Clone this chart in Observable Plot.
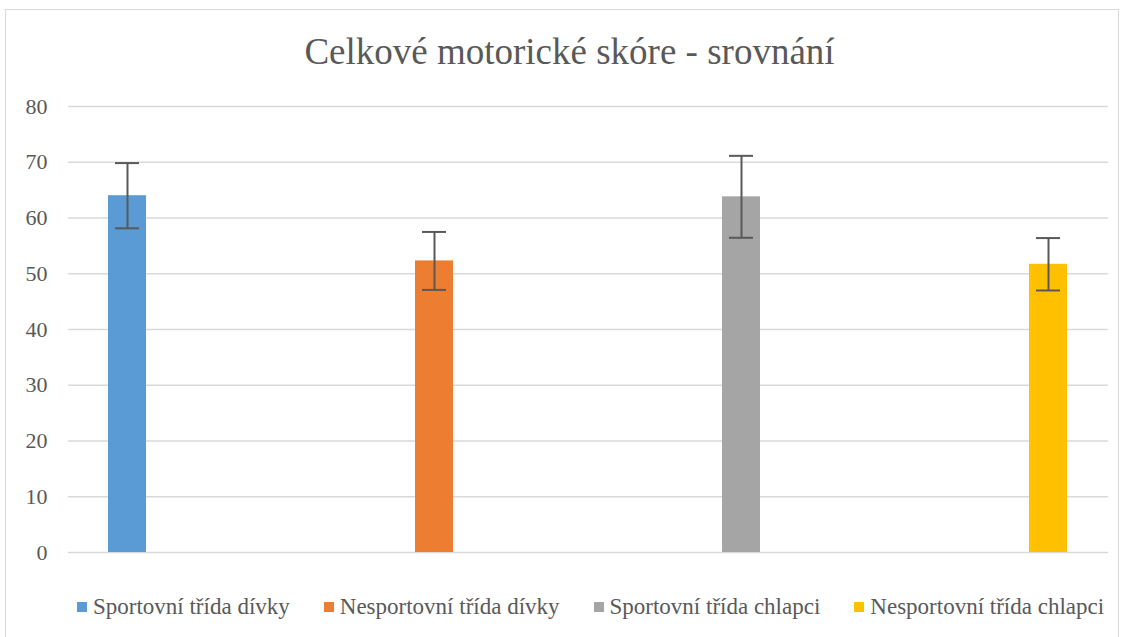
<!DOCTYPE html>
<html>
<head>
<meta charset="utf-8">
<script src="https://cdn.jsdelivr.net/npm/d3@7"></script>
<script src="https://cdn.jsdelivr.net/npm/@observablehq/plot@0.6"></script>
<style>
  html, body { margin: 0; padding: 0; background: #fff; }
  #wrap { position: relative; width: 1127px; height: 637px; overflow: hidden; font-family: "Liberation Serif", "Times New Roman", serif; }
  #border { position: absolute; left: 5px; top: 9px; width: 1114px; height: 640px; border: 1.5px solid #d9d9d9; box-sizing: border-box; }
  #title { position: absolute; left: 6px; width: 1127px; top: 33px; text-align: center; font-size: 37px; color: #595959; line-height: 1; }
  #chart { position: absolute; left: 0; top: 80px; }
  #legend { position: absolute; left: 77px; top: 594px; display: flex; justify-content: flex-start; gap: 34px; font-size: 23px; color: #595959; line-height: 26px; white-space: nowrap; }
  .item { display: flex; align-items: center; }
  .sw { width: 10px; height: 10px; margin-right: 6px; }
</style>
</head>
<body>
<div id="wrap">
  <div id="border"></div>
  <div id="title">Celkové motorické skóre - srovnání</div>
  <div id="chart"></div>
  <div id="legend"></div>
</div>
<script>
const categories = ["Sportovní třída dívky", "Nesportovní třída dívky", "Sportovní třída chlapci", "Nesportovní třída chlapci"];
const means = [64.0, 52.3, 63.8, 51.7];
const errors = [5.85, 5.2, 7.35, 4.7];
const colors = ["#5b9bd5", "#ed7d31", "#a5a5a5", "#ffc000"];
const yTicks = [0, 10, 20, 30, 40, 50, 60, 70, 80];

const data = categories.map((c, i) => ({cat: c, mean: means[i], lo: means[i] - errors[i], hi: means[i] + errors[i], color: colors[i]}));

const plot = Plot.plot({
  width: 1127,
  height: 490,
  marginTop: 26,
  marginBottom: 18,
  marginLeft: 68,
  marginRight: 19,
  style: { fontFamily: "'Liberation Serif', 'Times New Roman', serif", fontSize: "22px", color: "#595959", background: "transparent" },
  x: { domain: categories, axis: null, paddingInner: 0.8762, paddingOuter: 0.1319 },
  y: { domain: [0, 80], ticks: yTicks, label: null, tickSize: 0, tickPadding: 21, tickFormat: d => String(d) },
  marks: [
    Plot.ruleY(yTicks, { stroke: "#d9d9d9", strokeWidth: 1.5 }),
    Plot.barY(data, { x: "cat", y: "mean", fill: "color" }),
    Plot.ruleX(data, { x: "cat", y1: "lo", y2: "hi", stroke: "#595959", strokeWidth: 2 }),
    Plot.tickY(data, { x: "cat", y: "lo", stroke: "#595959", strokeWidth: 2, inset: 7 }),
    Plot.tickY(data, { x: "cat", y: "hi", stroke: "#595959", strokeWidth: 2, inset: 7 })
  ]
});
document.getElementById("chart").appendChild(plot);

const legend = document.getElementById("legend");
categories.forEach((c, i) => {
  const item = document.createElement("div");
  item.className = "item";
  const sw = document.createElement("div");
  sw.className = "sw";
  sw.style.background = colors[i];
  const t = document.createElement("span");
  t.textContent = c;
  item.appendChild(sw);
  item.appendChild(t);
  legend.appendChild(item);
});
</script>
</body>
</html>
